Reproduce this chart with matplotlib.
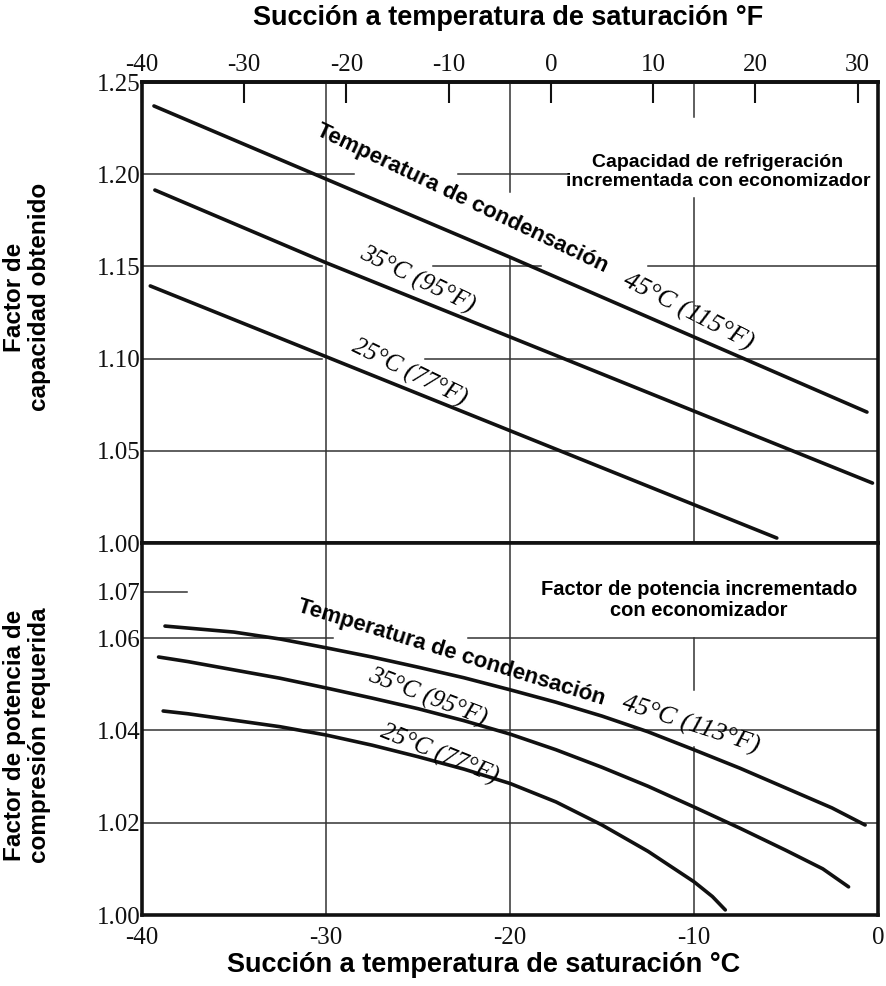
import numpy as np
import matplotlib.pyplot as plt

# Capacity factor gained with economizer (top panel), straight lines
cap_45_t = [-39.35, -20.0, -0.6]
cap_45_v = [1.237, 1.155, 1.071]
cap_35_t = [-39.3, -30.0, -0.3]
cap_35_v = [1.1914, 1.152, 1.0325]
cap_25_t = [-39.55, -5.5]
cap_25_v = [1.1394, 1.0027]

# Compression power factor with economizer (bottom panel)
pow_45_t = [-38.75, -35, -32.5, -30, -27.5, -25, -22.5, -20, -17.5, -15,
            -12.5, -10, -7.5, -5, -2.5, -0.7]
pow_45_v = [1.0626, 1.0613, 1.0598, 1.0579, 1.0559, 1.0537, 1.0514, 1.0488,
            1.0461, 1.0431, 1.0397, 1.0358, 1.0318, 1.0275, 1.0232, 1.0195]
pow_35_t = [-39.1, -37.5, -35, -32.5, -30, -27.5, -25, -22.5, -20, -17.5,
            -15, -12.5, -10, -7.5, -5, -3, -1.6]
pow_35_v = [1.0559, 1.0549, 1.0531, 1.0513, 1.0492, 1.0470, 1.0447, 1.0421,
            1.0392, 1.0358, 1.0320, 1.0279, 1.0234, 1.0188, 1.0140, 1.0100,
            1.0061]
pow_25_t = [-38.85, -37.5, -35, -32.5, -30, -27.5, -25, -22.5, -20, -17.5,
            -15, -12.5, -10, -9, -8.3]
pow_25_v = [1.0442, 1.0436, 1.0422, 1.0408, 1.0390, 1.0368, 1.0343, 1.0316,
            1.0285, 1.0245, 1.0195, 1.0138, 1.0072, 1.0040, 1.0011]

top_yticks = [1.00, 1.05, 1.10, 1.15, 1.20, 1.25]
bot_yticks = [1.00, 1.02, 1.04, 1.06, 1.07]
c_ticks = [-40, -30, -20, -10, 0]
f_ticks = [-40, -30, -20, -10, 0, 10, 20, 30]

# grid pieces (the scanned chart leaves gaps around the labels)
top_hgrid = [(1.20, -40, -28.5), (1.20, -22.8, -16.9),
             (1.15, -40, -30.2), (1.15, -24.2, -18.3), (1.15, -12.5, 0),
             (1.10, -40, -30.2), (1.10, -24.6, 0),
             (1.05, -40, 0)]
top_vgrid = [(-30, 1.0, 1.25), (-20, 1.1903, 1.25), (-20, 1.0, 1.155),
             (-10, 1.231, 1.25), (-10, 1.0, 1.187)]
bot_hgrid = [(1.07, -40, -37.55), (1.06, -40, -29.6), (1.06, -22.3, 0),
             (1.04, -40, 0), (1.02, -40, 0)]
bot_vgrid = [(-30, 1.0, 1.0806), (-20, 1.0, 1.0806),
             (-10, 1.0, 1.0364), (-10, 1.0488, 1.06)]

INK = "#111111"
GRID = "#333333"
SERIF = "Liberation Serif"
SANS = "Liberation Sans"

fig = plt.figure(figsize=(8.86, 9.86), dpi=100)
ax1 = fig.add_axes([142 / 886, 1 - 543 / 986, 736 / 886, 461 / 986])
ax2 = fig.add_axes([142 / 886, 1 - 915 / 986, 736 / 886, 372 / 986])

for ax in (ax1, ax2):
    ax.set_xlim(-40, 0)
    for s in ax.spines.values():
        s.set_linewidth(2.6)
        s.set_color(INK)
    ax.tick_params(axis="both", length=0, labelsize=18, colors=INK)

ax1.set_ylim(1.0, 1.25)
ax2.set_ylim(1.0, 1.0806)

for y, x0, x1 in top_hgrid:
    ax1.plot([x0, x1], [y, y], color=GRID, lw=1.1)
for x, y0, y1 in top_vgrid:
    ax1.plot([x, x], [y0, y1], color=GRID, lw=1.1)
for y, x0, x1 in bot_hgrid:
    ax2.plot([x0, x1], [y, y], color=GRID, lw=1.1)
for x, y0, y1 in bot_vgrid:
    ax2.plot([x, x], [y0, y1], color=GRID, lw=1.1)

lw = 2.6
curve_style = dict(color=INK, lw=lw, solid_capstyle="round", solid_joinstyle="round")
ax1.plot(cap_45_t, cap_45_v, **curve_style)
ax1.plot(cap_35_t, cap_35_v, **curve_style)
ax1.plot(cap_25_t, cap_25_v, **curve_style)
ax2.plot(pow_45_t, pow_45_v, **curve_style)
ax2.plot(pow_35_t, pow_35_v, **curve_style)
ax2.plot(pow_25_t, pow_25_v, **curve_style)

ax1.set_yticks(top_yticks)
ax1.set_yticklabels([f"{v:.2f}" for v in top_yticks], family=SERIF, fontsize=18)
ax1.set_xticks([])
ax2.set_yticks(bot_yticks)
ax2.set_yticklabels([f"{v:.2f}" for v in bot_yticks], family=SERIF, fontsize=18)
ax2.set_xticks(c_ticks)
ax2.set_xticklabels([str(v) for v in c_ticks], family=SERIF, fontsize=18)
ax1.tick_params(axis="y", pad=1)
ax2.tick_params(axis="y", pad=1)
ax2.tick_params(axis="x", pad=9)

# Fahrenheit scale on top
sec = ax1.secondary_xaxis("top", functions=(lambda c: c * 9 / 5 + 32,
                                            lambda f: (f - 32) * 5 / 9))
sec.set_xticks(f_ticks)
sec.set_xticklabels([str(v) for v in f_ticks], family=SERIF, fontsize=18)
sec.tick_params(axis="x", direction="in", length=15, width=1.5, pad=4, colors=INK)
sec.spines["top"].set_linewidth(2.6)

lbl_kw = dict(ha="center", va="center", rotation_mode="anchor")

# curve labels, top panel
ax1.text(-22.6, 1.1866, "Temperatura de condensación", family=SANS, weight="bold",
         fontsize=16, rotation=-25.5, **lbl_kw)
ax1.text(-10.3, 1.1253, "45°C (115°F)", family=SERIF, style="italic", fontsize=19,
         rotation=-27, **lbl_kw)
ax1.text(-25.05, 1.1426, "35°C (95°F)", family=SERIF, style="italic", fontsize=18,
         rotation=-26, **lbl_kw)
ax1.text(-25.5, 1.0922, "25°C (77°F)", family=SERIF, style="italic", fontsize=18,
         rotation=-26, **lbl_kw)
ax1.text(-8.7, 1.2012, "Capacidad de refrigeración\nincrementada con economizador",
         family=SANS, weight="bold", fontsize=14, ha="center", va="center",
         multialignment="center", linespacing=1.1)

# curve labels, bottom panel
ax2.text(-23.2, 1.0568, "Temperatura de condensación", family=SANS, weight="bold",
         fontsize=16, rotation=-17, **lbl_kw)
ax2.text(-10.2, 1.0412, "45°C (113°F)", family=SERIF, style="italic", fontsize=19,
         rotation=-18, **lbl_kw)
ax2.text(-24.46, 1.0472, "35°C (95°F)", family=SERIF, style="italic", fontsize=18,
         rotation=-21, **lbl_kw)
ax2.text(-23.86, 1.0347, "25°C (77°F)", family=SERIF, style="italic", fontsize=18,
         rotation=-22, **lbl_kw)
ax2.text(-9.73, 1.0683, "Factor de potencia incrementado\ncon economizador",
         family=SANS, weight="bold", fontsize=14.5, ha="center", va="center",
         multialignment="center", linespacing=1.1)

# axis titles
fig.text(508 / 886, 1 - 18 / 986, "Succión a temperatura de saturación °F",
         family=SANS, weight="bold", fontsize=19.5, ha="center", va="center")
fig.text(484 / 886, 1 - 965 / 986, "Succión a temperatura de saturación °C",
         family=SANS, weight="bold", fontsize=19.5, ha="center", va="center")
fig.text(27 / 886, 1 - 297 / 986, "Factor de\ncapacidad obtenido", family=SANS,
         weight="bold", fontsize=17.5, rotation=90, ha="center", va="center",
         multialignment="center", linespacing=1.12)
fig.text(27 / 886, 1 - 735 / 986, "Factor de potencia de\ncompresión requerida",
         family=SANS, weight="bold", fontsize=17.5, rotation=90, ha="center",
         va="center", multialignment="center", linespacing=1.12)

fig.savefig("out.png", dpi=100, facecolor="white")
